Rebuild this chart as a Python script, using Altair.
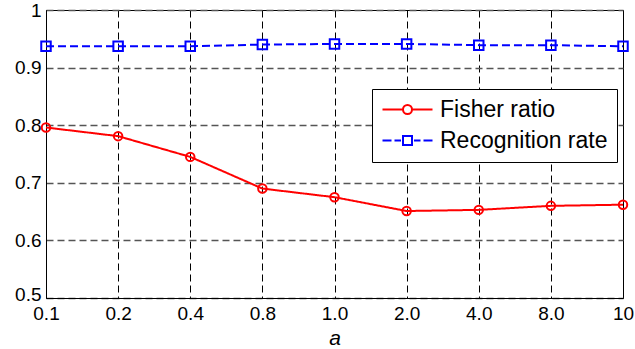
import altair as alt
import pandas as pd

categories = ["0.1", "0.2", "0.4", "0.8", "1.0", "2.0", "4.0", "8.0", "10"]
fisher_ratio = [0.796, 0.781, 0.745, 0.690, 0.675, 0.651, 0.653, 0.660, 0.662]
recognition_rate = [0.937, 0.937, 0.937, 0.940, 0.941, 0.941, 0.939, 0.939, 0.937]
series_names = ["Fisher ratio", "Recognition rate"]
series_colors = ["#ff0000", "#0000ff"]
series_shapes = ["circle", "square"]
series_marker_sizes = [72, 90]
series_dashes = [[1, 0], [8, 4]]
y_ticks = [0.5, 0.6, 0.7, 0.8, 0.9, 1.0]

# legend glyphs: line + marker (units of 10 px)
legend_paths = [
    "M-2.5,0H-0.45M0.45,0H2.5M0.45,0A0.45,0.45,0,1,1,-0.45,0A0.45,0.45,0,1,1,0.45,0",
    "M-2.5,0H-1.6M-1.3,0H-0.65M-0.45,-0.45H0.45V0.45H-0.45ZM0.65,0H1.3M1.6,0H2.5",
]

rows = []
for i, c in enumerate(categories):
    rows.append({"a": c, "series": series_names[0], "value": fisher_ratio[i]})
    rows.append({"a": c, "series": series_names[1], "value": recognition_rate[i]})
df = pd.DataFrame(rows)

FONT = "Liberation Sans"

x = alt.X(
    "a:O",
    sort=categories,
    scale=alt.Scale(type="point", padding=0),
    axis=alt.Axis(
        title="a", labelAngle=0, labelPadding=6, titlePadding=4,
        titleFontStyle="italic", titleFontSize=21, titleFontWeight="normal",
        grid=True, gridColor="#000000", gridDash=[7, 4], gridWidth=1,
        labelOverlap=False, labelFlush=False,
    ),
)
y = alt.Y(
    "value:Q",
    scale=alt.Scale(domain=[0.5, 1.0], nice=False, zero=False),
    axis=alt.Axis(
        title=None, values=y_ticks, format=".1~f", labelPadding=5,
        labelOffset={"condition": {"test": "datum.value <= 0.5", "value": -4}, "value": 0},
        grid=True, gridColor="#555555", gridDash=[7, 4], gridWidth=1.3,
    ),
)

stroke_scale = alt.Scale(domain=series_names, range=series_colors)

lines = alt.Chart(df).mark_line(strokeWidth=2).encode(
    x=x, y=y,
    stroke=alt.Stroke("series:N", scale=stroke_scale, legend=None),
    strokeDash=alt.StrokeDash("series:N", scale=alt.Scale(domain=series_names, range=series_dashes), legend=None),
)

points = alt.Chart(df).mark_point(filled=False, strokeWidth=2, opacity=1).encode(
    x=x, y=y,
    stroke=alt.Stroke("series:N", scale=stroke_scale, legend=None),
    shape=alt.Shape("series:N", scale=alt.Scale(domain=series_names, range=series_shapes), legend=None),
    size=alt.Size("series:N", scale=alt.Scale(domain=series_names, range=series_marker_sizes), legend=None),
)

leg = alt.Legend(
    title=None, orient="none", legendX=326, legendY=79,
    labelFont=FONT, labelFontSize=23, labelColor="#000000", labelLimit=400,
    symbolSize=400, symbolStrokeWidth=2, symbolOffset=15, labelOffset=21,
    padding=9, rowPadding=7, fillColor="#ffffff", strokeColor="#000000",
)

legend_layer = alt.Chart(df).transform_filter("false").mark_point(filled=False, strokeWidth=2, opacity=1).encode(
    x=x, y=y,
    color=alt.Color("series:N", scale=alt.Scale(domain=series_names, range=series_colors), legend=leg),
    shape=alt.Shape("series:N", scale=alt.Scale(domain=series_names, range=legend_paths), legend=leg),
)

chart = (
    alt.layer(lines, points, legend_layer)
    .resolve_scale(shape="independent", color="independent", size="independent")
    .properties(
        width=577, height=288,
        autosize=alt.AutoSizeParams(type="none"),
        padding={"left": 46, "top": 10, "right": 12, "bottom": 51},
        background="#ffffff",
    )
    .configure_view(stroke="#000000", strokeWidth=1)
    .configure_axis(
        labelFont=FONT, labelFontSize=19, labelColor="#000000",
        titleFont=FONT, titleColor="#000000",
        domainColor="#000000", domainWidth=1, ticks=False, tickSize=0,
    )
)

chart.save("out.html", embed_options={"renderer": "svg", "actions": False})
